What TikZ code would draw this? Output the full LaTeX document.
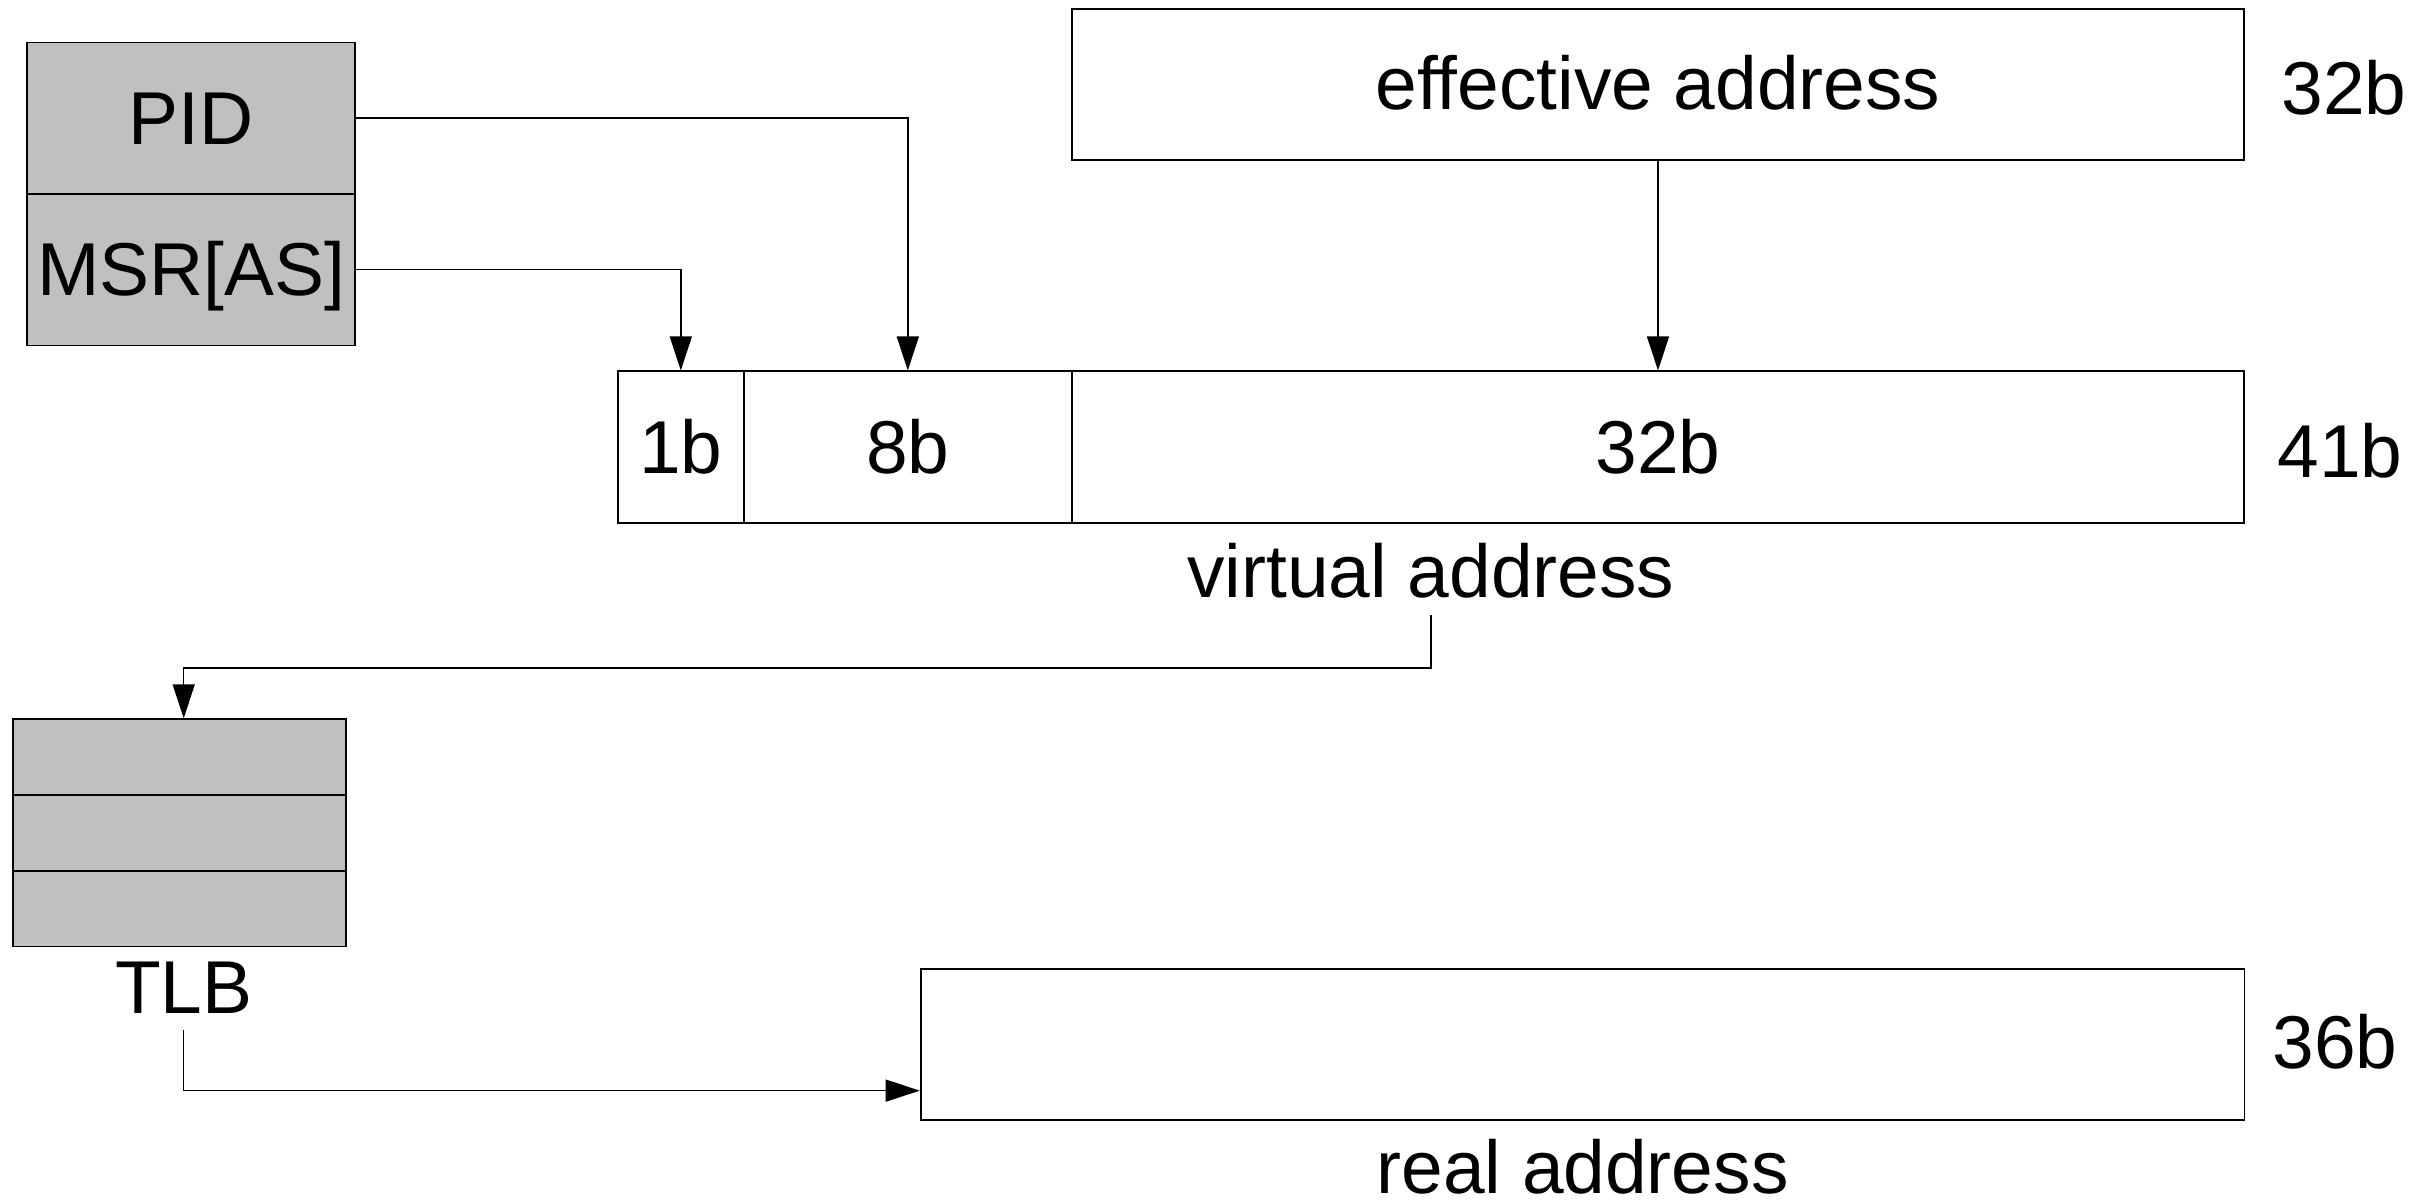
\documentclass[tikz,border=0pt]{standalone}
\usepackage{fontspec}
\setmainfont{Liberation Sans}
\usetikzlibrary{arrows.meta,calc}
\definecolor{regfill}{HTML}{C0C0C0}
\begin{document}
\begin{tikzpicture}[x=0.01cm,y=-0.01cm,
  cell/.style={draw=black,line width=0.5pt,inner sep=0,anchor=center,
               font=\fontsize{21.3}{25}\selectfont},
  reg/.style={cell,fill=regfill},
  lab/.style={inner sep=0,anchor=base,font=\fontsize{21.3}{25}\selectfont},
  conn/.style={draw,line width=0.4pt,-{Triangle[length=0.34cm,width=0.22cm]}}]
\useasboundingbox (0,0) rectangle (2433,1203);

% PID / MSR register stack
\node[reg,minimum width=3.278cm,minimum height=1.515cm] (pid) at (191.3,118.2) {};
\node[reg,minimum width=3.278cm,minimum height=1.514cm] (msr) at (191.3,269.7) {};
\node[lab] (pidt) at (191.3,144.6) {PID};
\node[lab] (msrt) at (191.3,295.7) {MSR[AS]};

% effective address
\node[cell,minimum width=11.72cm,minimum height=1.51cm] (eff) at (1658,84.5) {};
\node[lab] (efft) at (1658,109) {effective address};
\node[lab] (effw) at (2344,114) {32b};

% virtual address fields
\node[cell,minimum width=1.256cm,minimum height=1.518cm] (v1) at (680.8,447.3) {};
\node[cell,minimum width=3.284cm,minimum height=1.518cm] (v8) at (907.8,447.3) {};
\node[cell,minimum width=11.72cm,minimum height=1.518cm] (v32) at (1658,447.3) {};
\node[lab] (v1t) at (680.8,473) {1b};
\node[lab] (v8t) at (907.8,473) {8b};
\node[lab] (v32t) at (1658,473) {32b};
\node[lab] (vw) at (2340,477) {41b};
\node[lab] (vlab) at (1431,597) {virtual address};

% TLB
\node[reg,minimum width=3.335cm,minimum height=0.757cm] (tlb1) at (179.5,757.1) {};
\node[reg,minimum width=3.335cm,minimum height=0.757cm] (tlb2) at (179.5,833) {};
\node[reg,minimum width=3.335cm,minimum height=0.757cm] (tlb3) at (179.5,908.5) {};
\node[lab] (tlbt) at (183.7,1013) {TLB};

% real address
\node[cell,minimum width=13.23cm,minimum height=1.508cm] (real) at (1582.5,1044.2) {};
\node[lab] (realw) at (2335,1068) {36b};
\node[lab] (realt) at (1582.5,1193) {real address};

% connectors
\draw[conn] (pid.east) -| (v8.north);
\draw[conn] (msr.east) -| (v1.north);
\draw[conn] (eff.south) -- (v32.north);
\draw[conn] ([yshift=-0.17cm]vlab.south) -- ++(0,52.6) -| ([xshift=0.042cm]tlb1.north);
\draw[conn] ([yshift=-0.165cm]tlbt.south) |- ($(real.south west)+(0,-29.9)$);
\end{tikzpicture}
\end{document}
